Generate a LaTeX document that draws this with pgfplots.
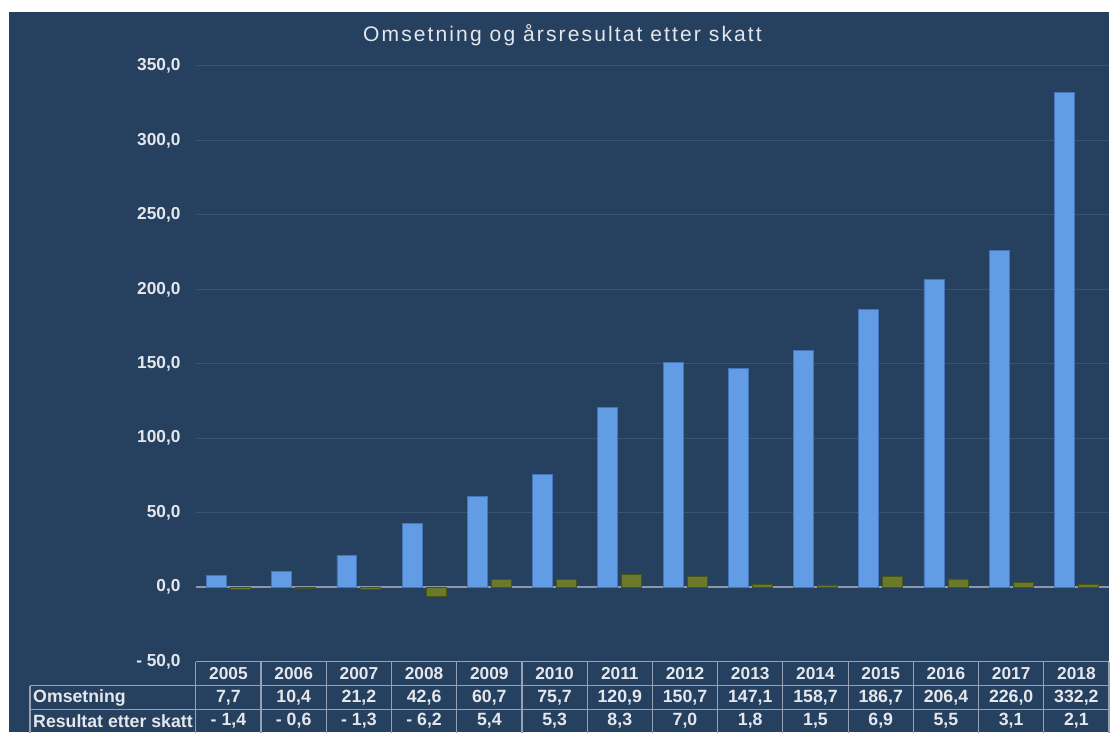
\documentclass[border=0pt]{standalone}
\usepackage{pgfplots}
\pgfplotsset{compat=1.18}
\usepackage{fontspec}
\setmainfont{Liberation Sans}
\definecolor{bg}{RGB}{38,64,96}
\definecolor{gridc}{RGB}{58,84,115}
\definecolor{zeroc}{RGB}{140,152,170}
\definecolor{linec}{RGB}{150,162,180}
\definecolor{txt}{RGB}{228,231,236}
\definecolor{bluemid}{RGB}{98,156,228}
\definecolor{blueedge}{RGB}{70,118,186}
\definecolor{greenmid}{RGB}{106,121,42}
\definecolor{greenedge}{RGB}{70,84,26}

\pgfplotstableread{
x year oms res
0 2005 7.7 -1.4
1 2006 10.4 -0.6
2 2007 21.2 -1.3
3 2008 42.6 -6.2
4 2009 60.7 5.4
5 2010 75.7 5.3
6 2011 120.9 8.3
7 2012 150.7 7.0
8 2013 147.1 1.8
9 2014 158.7 1.5
10 2015 186.7 6.9
11 2016 206.4 5.5
12 2017 226.0 3.1
13 2018 332.2 2.1
}\data

\begin{document}
\begin{tikzpicture}
% background, 1px = 0.75pt, origin at lower left of the axis
\begin{scope}[x=0.75pt,y=0.75pt]
  \fill[white] (-196,-70.8) rectangle (914,662.2);
  \fill[bg] (-187,-70.8) rectangle (914,650.2);
\end{scope}

\begin{axis}[
    at={(0,0)}, anchor=south west,
    scale only axis,
    width=685.5pt, height=447.15pt,
    xmin=-0.5, xmax=13.5,
    ymin=-50, ymax=350,
    ybar, bar width=15pt, ybar=3pt,
    axis line style={draw=none},
    major tick length=0pt,
    ytick={-50,0,50,100,150,200,250,300,350},
    yticklabels={{- 50,0},{0,0},{50,0},{100,0},{150,0},{200,0},{250,0},{300,0},{350,0}},
    xtick={0,...,13},
    xticklabels={2005,2006,2007,2008,2009,2010,2011,2012,2013,2014,2015,2016,2017,2018},
    ymajorgrids, grid style={gridc, line width=0.75pt},
    tick label style={font=\bfseries\fontsize{13}{15}\selectfont, text=txt},
    yticklabel style={inner sep=0pt, xshift=-11.25pt},
    xticklabel style={anchor=center, inner sep=0pt, yshift=-9pt},
    clip=false,
]
\draw[zeroc, line width=1.5pt] (axis cs:-0.5,0) -- (axis cs:13.5,0);
\addplot[draw=blueedge, line width=0.6pt, fill=bluemid]
    table[x=x, y=oms] {\data};
\addplot[draw=greenedge, line width=0.6pt, fill=greenmid]
    table[x=x, y=res] {\data};
\end{axis}

% data table under the plot
\begin{scope}[x=0.75pt,y=0.75pt]
  \draw[linec, line width=0.9pt] (0,0) -- (914,0);
  \draw[linec, line width=0.9pt] (-166,-24) -- (914,-24);
  \draw[linec, line width=0.9pt] (-166,-48) -- (914,-48);
  \draw[linec, line width=0.9pt] (-166,-24) -- (-166,-71);
  \foreach \i in {0,...,14}
    \draw[linec, line width=0.9pt] ({\i*65.286},0) -- ({\i*65.286},-71);
  \begin{scope}[every node/.style={text=txt, font=\bfseries\fontsize{13.3}{15}\selectfont, inner sep=0pt}]
    \node[anchor=west] at (-163,-36) {Omsetning};
    \node[anchor=west] at (-163,-59.5) {Resultat etter skatt};
    \foreach \o/\r [count=\i from 0] in {{7,7}/{- 1,4},{10,4}/{- 0,6},{21,2}/{- 1,3},{42,6}/{- 6,2},
        {60,7}/{5,4},{75,7}/{5,3},{120,9}/{8,3},{150,7}/{7,0},{147,1}/{1,8},{158,7}/{1,5},
        {186,7}/{6,9},{206,4}/{5,5},{226,0}/{3,1},{332,2}/{2,1}} {
      \node at ({(\i+0.5)*65.286},-36) {\o};
      \node at ({(\i+0.5)*65.286},-59.5) {\r};
    }
  \end{scope}
  \node[text=txt, inner sep=0pt, font=\fontsize{15.8}{18}\selectfont\addfontfeatures{LetterSpace=10}]
    at (367,627) {Omsetning og årsresultat etter skatt};
\end{scope}
\end{tikzpicture}
\end{document}
